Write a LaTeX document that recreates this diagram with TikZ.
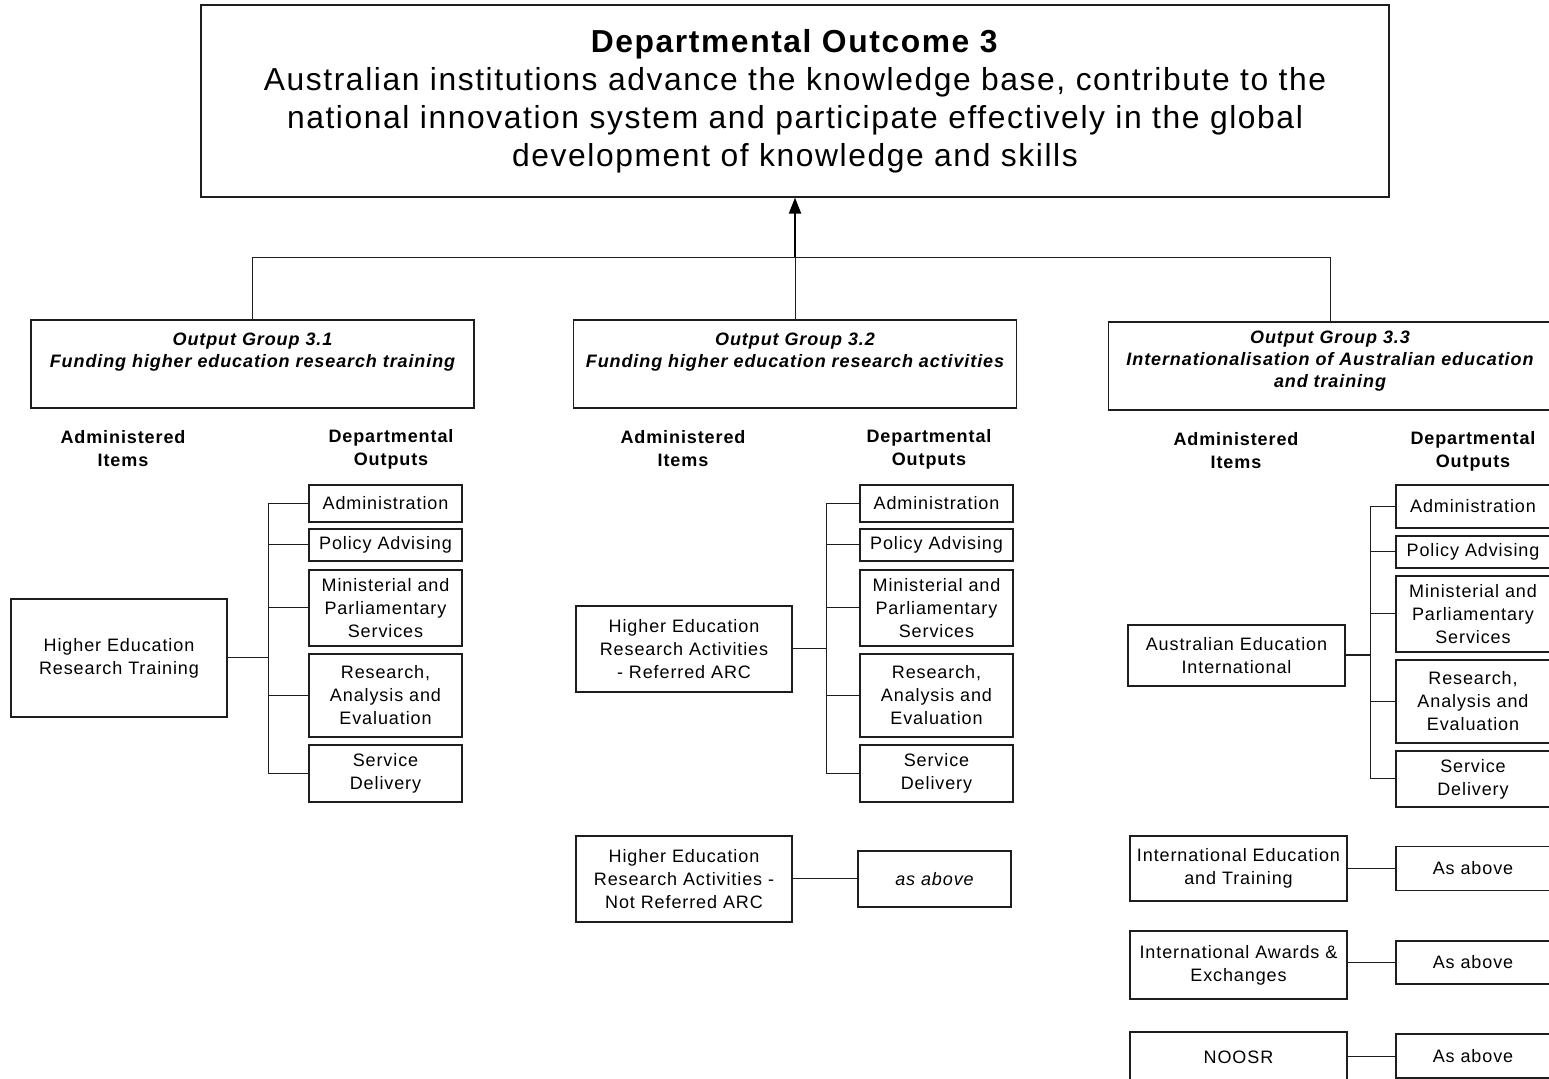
\documentclass[tikz,border=0pt]{standalone}
\usepackage{fontspec}
\setmainfont{Liberation Sans}[LetterSpace=5]
\usetikzlibrary{arrows.meta}
\definecolor{boxink}{RGB}{30,30,30}
\newcommand{\boxsize}{\fontsize{9}{11.5}\selectfont}

\tikzset{
  cellbox/.style={draw=boxink, line width=0.6pt, inner sep=0pt, align=center},
  outbox/.style={cellbox, minimum width=76.5pt},
  itembox/.style={cellbox, minimum width=108pt},
  grpbox/.style={cellbox, minimum width=221.5pt, minimum height=44pt,
                 font=\fontsize{9}{11}\selectfont\bfseries\itshape},
  hdr/.style={align=center, inner sep=0pt, font=\boxsize\bfseries},
  link/.style={draw=boxink, line width=0.5pt}
}

\begin{document}
\begin{tikzpicture}[x=0.5pt, y=-0.5pt, font=\boxsize]
  \useasboundingbox[fill=white] (0,0) rectangle (1549,1079);

  % outcome
  \node[cellbox, minimum width=594pt, minimum height=96pt,
        font=\fontsize{15.9}{19}\selectfont] (outcome) at (795,101)
        {\textbf{Departmental Outcome 3}\\
         Australian institutions advance the knowledge base, contribute to the\\
         national innovation system and participate effectively in the global\\
         development of knowledge and skills};
  \coordinate (hub) at (795,258);

  % output groups
  \node[grpbox] (grp1) at (252.5,364)
        {Output Group 3.1\\Funding higher education research training\\[3pt]~};
  \node[grpbox] (grp2) at (795,364)
        {Output Group 3.2\\Funding higher education research activities\\[3pt]~};
  \node[grpbox] (grp3) at (1330,366)
        {Output Group 3.3\\Internationalisation of Australian education\\and training\\[-4pt]~};

  \draw[line width=1pt, -{Triangle[length=8pt, width=6pt]}] (hub) -- (outcome.south);
  \draw[link] (grp1.north) -- (grp1.north |- hub) -- (grp3.north |- hub) -- (grp3.north);
  \draw[link] (grp2.north) -- (hub);

  % column headings
  \node[hdr] (adm1h) at (123,449) {Administered\\Items};
  \node[hdr] (dep1h) at (391,449) {Departmental\\Outputs};
  \node[hdr] (adm2h) at (683,449) {Administered\\Items};
  \node[hdr] (dep2h) at (929,449) {Departmental\\Outputs};
  \node[hdr] (adm3h) at (1236,451) {Administered\\Items};
  \node[hdr] (dep3h) at (1473,451) {Departmental\\Outputs};

  % group 3.1
  \node[itembox, minimum height=59pt] (hert) at (119,658)
        {Higher Education\\Research Training};
  \node[outbox, minimum height=18.5pt] (adm1) at (385.5,503.5) {Administration};
  \node[outbox, minimum height=16pt] (pol1) at (385.5,545) {Policy Advising};
  \node[outbox, minimum height=38pt] (min1) at (385.5,608)
        {Ministerial and\\Parliamentary\\Services};
  \node[outbox, minimum height=41.5pt] (res1) at (385.5,695.5)
        {Research,\\Analysis and\\Evaluation};
  \node[outbox, minimum height=28.5pt] (svc1) at (385.5,773.5) {Service\\Delivery};
  \coordinate (bus1) at (268,658);
  \draw[link] (hert.east) -- (bus1);
  \draw[link] (bus1 |- adm1.west) -- (bus1 |- svc1.west);
  \foreach \b in {adm1,pol1,min1,res1,svc1}
    \draw[link] (bus1 |- \b.west) -- (\b.west);

  % group 3.2
  \node[itembox, minimum height=43pt] (hera) at (684,649)
        {Higher Education\\Research Activities\\ - Referred ARC};
  \node[outbox, minimum height=18.5pt] (adm2) at (936.5,503.5) {Administration};
  \node[outbox, minimum height=16pt] (pol2) at (936.5,545) {Policy Advising};
  \node[outbox, minimum height=38pt] (min2) at (936.5,608)
        {Ministerial and\\Parliamentary\\Services};
  \node[outbox, minimum height=41.5pt] (res2) at (936.5,695.5)
        {Research,\\Analysis and\\Evaluation};
  \node[outbox, minimum height=28.5pt] (svc2) at (936.5,773.5) {Service\\Delivery};
  \coordinate (bus2) at (826,649);
  \draw[link] (hera.east) -- (bus2);
  \draw[link] (bus2 |- adm2.west) -- (bus2 |- svc2.west);
  \foreach \b in {adm2,pol2,min2,res2,svc2}
    \draw[link] (bus2 |- \b.west) -- (\b.west);

  \node[itembox, minimum height=43pt] (hern) at (684,879)
        {Higher Education\\Research Activities -\\Not Referred ARC};
  \node[outbox, minimum height=28pt, font=\boxsize\itshape] (same2) at (934.5,879) {as above};
  \draw[link] (hern.east) -- (same2.west);

  % group 3.3
  \node[itembox, minimum width=108.5pt, minimum height=30.5pt] (aei) at (1236.5,655.5)
        {Australian Education\\International};
  \node[outbox, minimum width=77pt, minimum height=21.5pt] (adm3) at (1473,506.5) {Administration};
  \node[outbox, minimum width=77pt, minimum height=16pt] (pol3) at (1473,552) {Policy Advising};
  \node[outbox, minimum width=77pt, minimum height=38pt] (min3) at (1473,614)
        {Ministerial and\\Parliamentary\\Services};
  \node[outbox, minimum width=77pt, minimum height=41.5pt] (res3) at (1473,701.5)
        {Research,\\Analysis and\\Evaluation};
  \node[outbox, minimum width=77pt, minimum height=28pt] (svc3) at (1473,779) {Service\\Delivery};
  \coordinate (bus3) at (1370,655.5);
  \draw[link, line width=1pt] (aei.east) -- (bus3);
  \draw[link] (bus3 |- adm3.west) -- (bus3 |- svc3.west);
  \foreach \b in {adm3,pol3,min3,res3,svc3}
    \draw[link] (bus3 |- \b.west) -- (\b.west);

  \node[itembox, minimum width=108.5pt, minimum height=32.5pt] (iet) at (1238.5,868.5)
        {International Education\\and Training};
  \node[itembox, minimum width=108.5pt, minimum height=34pt] (iae) at (1238.5,965)
        {International Awards \&\\Exchanges};
  \node[itembox, minimum width=108.5pt, minimum height=25pt] (noosr) at (1238.5,1057) {NOOSR};
  \node[outbox, minimum width=77pt, minimum height=22pt] (same3a) at (1473,868.5) {As above};
  \node[outbox, minimum width=77pt, minimum height=21.5pt] (same3b) at (1473,962.5) {As above};
  \node[outbox, minimum width=77pt, minimum height=22pt] (same3c) at (1473,1056) {As above};
  \draw[link] (same3a.west -| iet.east) -- (same3a.west);
  \draw[link] (same3b.west -| iae.east) -- (same3b.west);
  \draw[link] (same3c.west -| noosr.east) -- (same3c.west);
\end{tikzpicture}
\end{document}
